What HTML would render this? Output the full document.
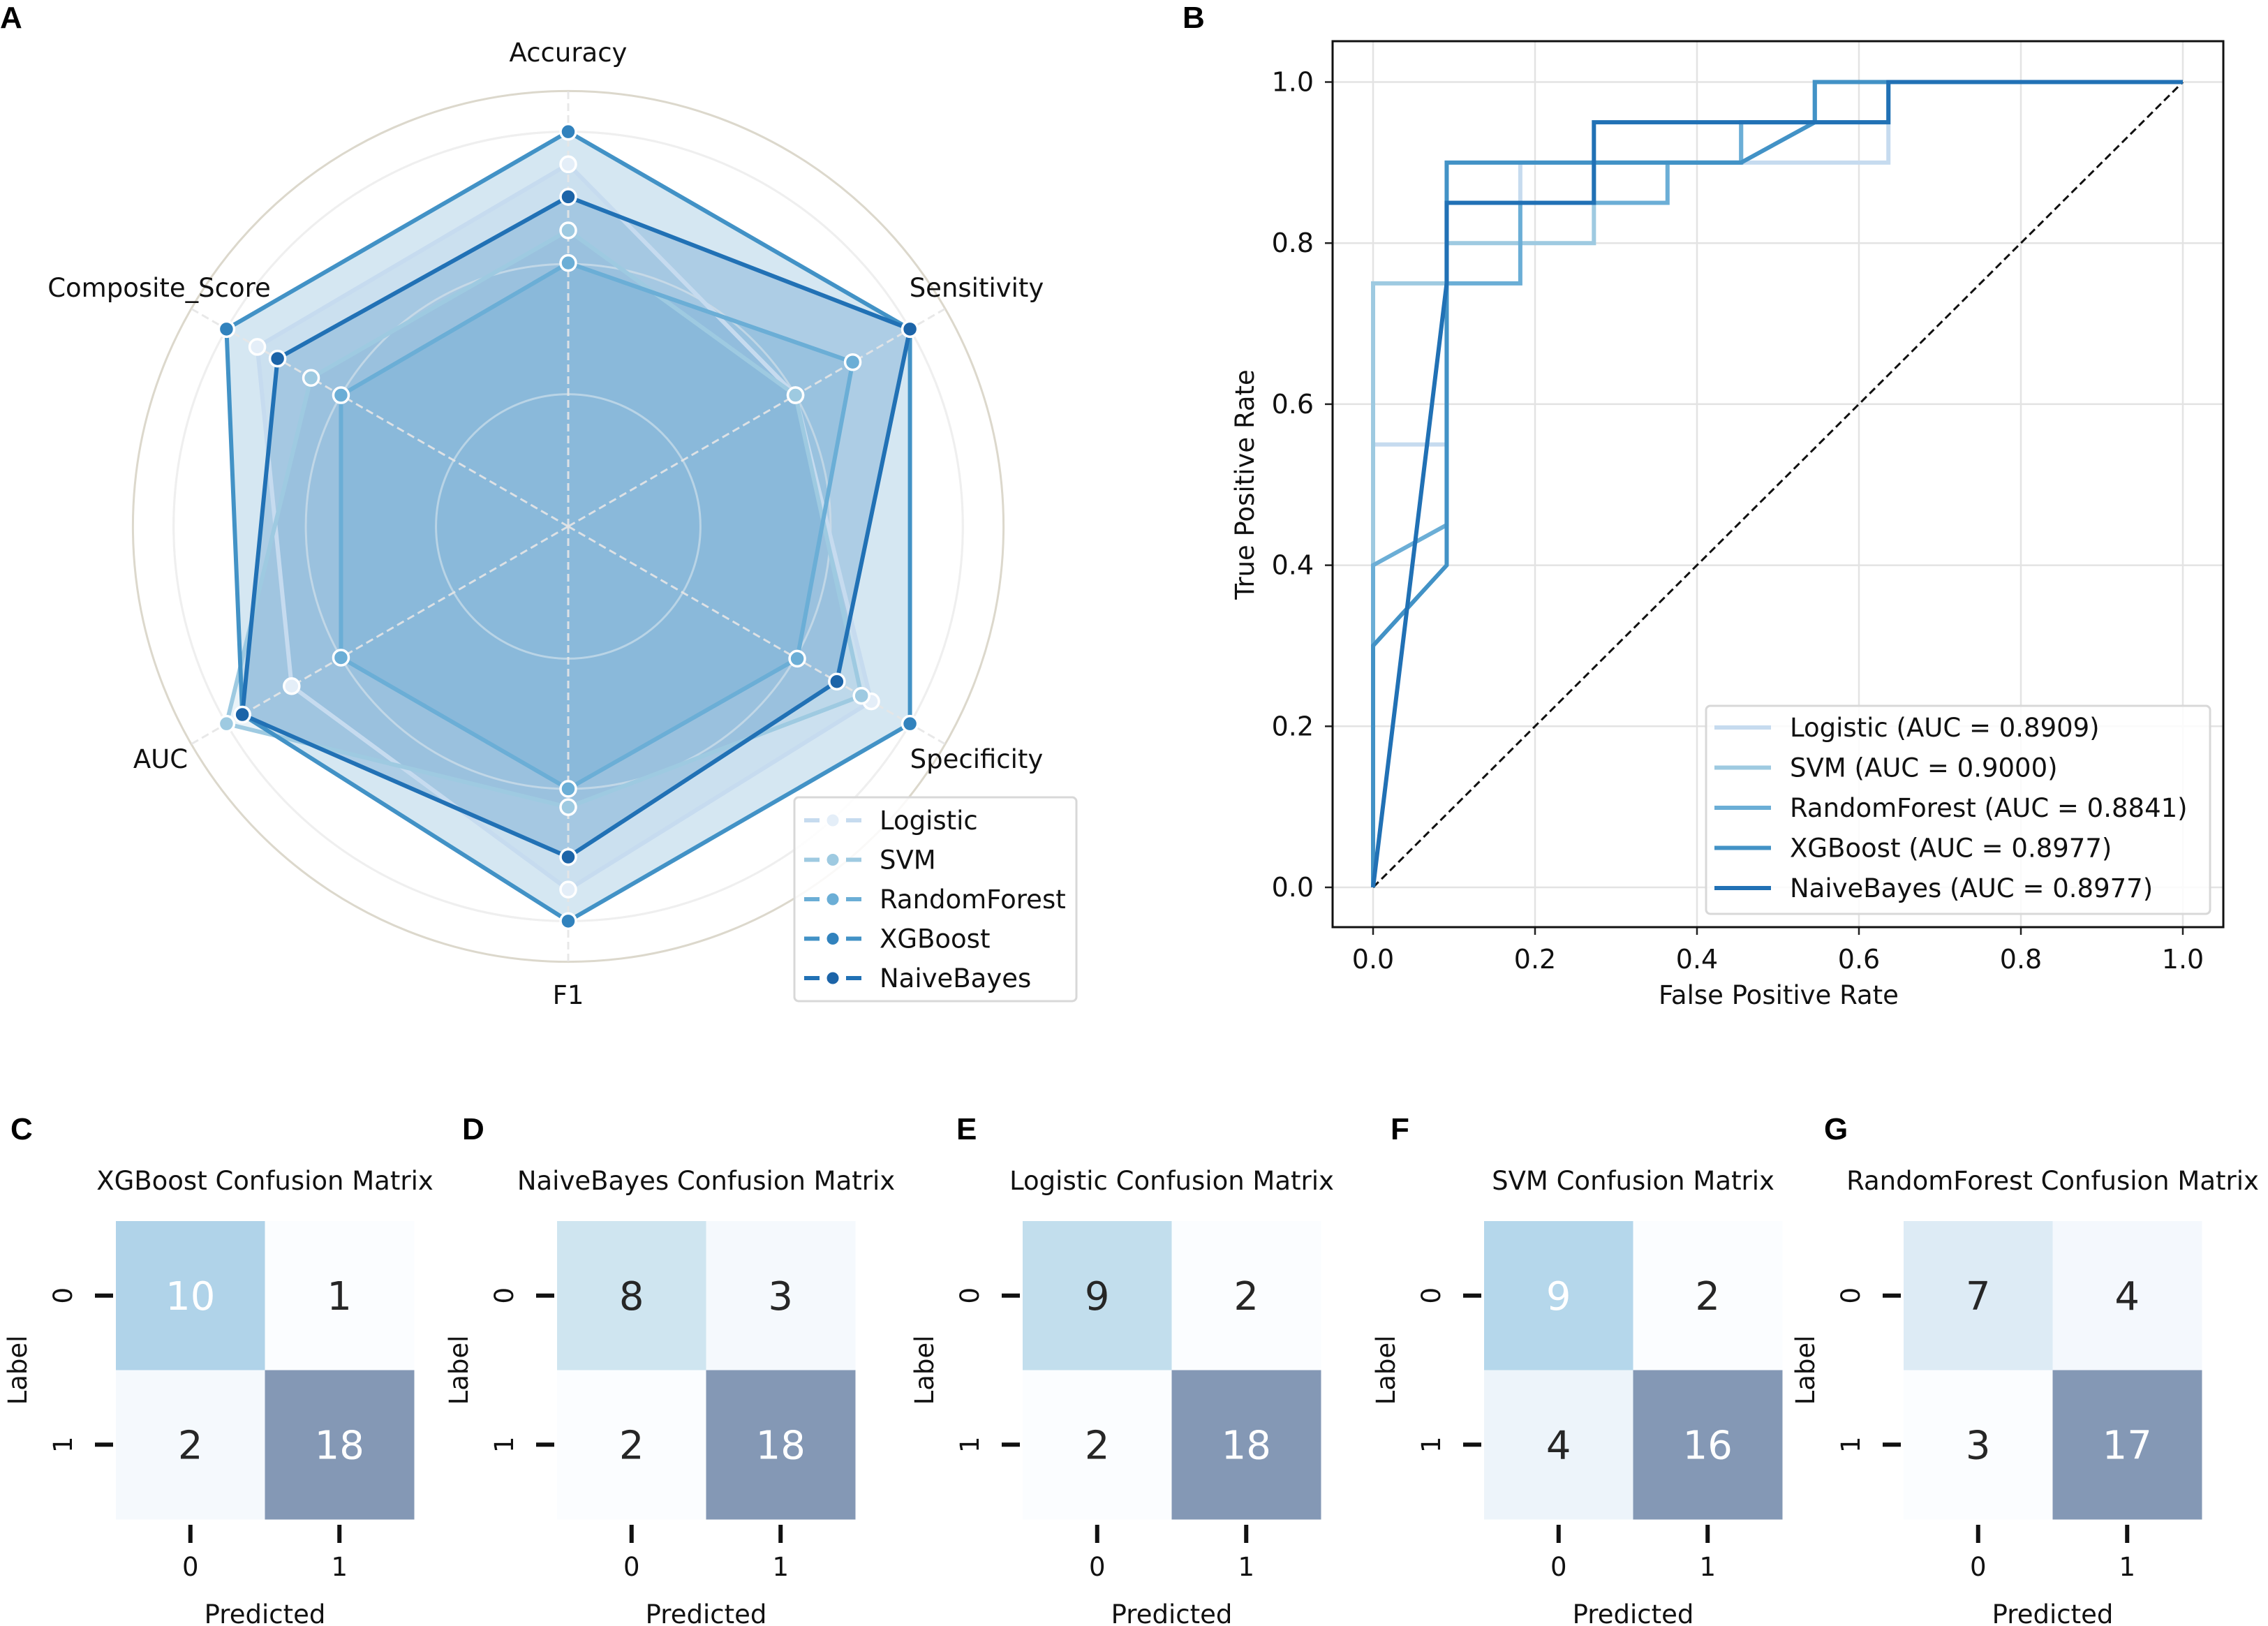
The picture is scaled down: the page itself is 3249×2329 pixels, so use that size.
<!DOCTYPE html>
<html><head><meta charset="utf-8"><style>
html,body{margin:0;padding:0;background:#fff}
svg{display:block}
text{font-family:"DejaVu Sans","Liberation Sans",sans-serif}
.lt{font-family:"Liberation Sans",sans-serif;font-weight:bold;font-size:44px}
</style></head><body>
<svg id="fig" width="3249" height="2329" viewBox="0 0 3249 2329" xmlns="http://www.w3.org/2000/svg">
<text class="lt" x="0" y="40">A</text>
<text class="lt" x="1694" y="40">B</text>
<text class="lt" x="15" y="1632">C</text>
<text class="lt" x="662" y="1632">D</text>
<text class="lt" x="1370" y="1632">E</text>
<text class="lt" x="1992" y="1632">F</text>
<text class="lt" x="2613" y="1632">G</text>
<g id="radar"></g>
<g id="roc"></g>
<g id="cms"></g>
</svg>
<script>
// ---------- Radar data ----------
const radarAxes = ["Accuracy","Sensitivity","Specificity","F1","AUC","Composite_Score"];
const modelNames = ["Logistic","SVM","RandomForest","XGBoost","NaiveBayes"];
const logisticScores = [0.871,0.773,0.859,0.872,0.829,0.868];
const svmScores = [0.806,0.773,0.848,0.791,0.903,0.807];
const rfScores = [0.774,0.838,0.775,0.773,0.773,0.773];
const xgbScores = [0.903,0.903,0.903,0.903,0.885,0.903];
const nbScores = [0.839,0.903,0.820,0.840,0.885,0.845];
const radarRings = [0.645,0.773,0.903,0.943];
// ---------- ROC data ----------
const rocLogisticFpr = [0,0,0.0909,0.0909,0.1818,0.1818,0.6364,0.6364,1];
const rocLogisticTpr = [0,0.55,0.55,0.85,0.85,0.9,0.9,1,1];
const rocSvmFpr = [0,0,0.0909,0.0909,0.2727,0.2727,0.4545,0.4545,0.6364,0.6364,1];
const rocSvmTpr = [0,0.75,0.75,0.8,0.8,0.9,0.9,0.95,0.95,1,1];
const rocRfFpr = [0,0,0.0909,0.0909,0.1818,0.1818,0.3636,0.3636,0.4545,0.4545,0.5455,0.5455,1];
const rocRfTpr = [0,0.4,0.45,0.75,0.75,0.85,0.85,0.9,0.9,0.95,0.95,1,1];
const rocXgbFpr = [0,0,0.0909,0.0909,0.4545,0.5455,0.5455,1];
const rocXgbTpr = [0,0.3,0.4,0.9,0.9,0.95,1,1];
const rocNbFpr = [0,0.0909,0.0909,0.2727,0.2727,0.6364,0.6364,1];
const rocNbTpr = [0,0.75,0.85,0.85,0.95,0.95,1,1];
const rocAucLabels = ["Logistic (AUC = 0.8909)","SVM (AUC = 0.9000)","RandomForest (AUC = 0.8841)","XGBoost (AUC = 0.8977)","NaiveBayes (AUC = 0.8977)"];
const rocTicks = [0,0.2,0.4,0.6,0.8,1.0];
const rocTickLabels = ["0.0","0.2","0.4","0.6","0.8","1.0"];
// ---------- Confusion matrix data ----------
const cmTitles = ["XGBoost Confusion Matrix","NaiveBayes Confusion Matrix","Logistic Confusion Matrix","SVM Confusion Matrix","RandomForest Confusion Matrix"];
const cmXgb = [10,1,2,18];
const cmNb = [8,3,2,18];
const cmLog = [9,2,2,18];
const cmSvm = [9,2,4,16];
const cmRf = [7,4,3,17];

const NS="http://www.w3.org/2000/svg";
function mk(parent,tag,attrs){const e=document.createElementNS(NS,tag);for(const k in attrs)e.setAttribute(k,attrs[k]);parent.appendChild(e);return e;}
const colors=["#c6dbef","#9ecae1","#6baed6","#4292c6","#2171b5"];
const markerFill=["#e4eef8","#9ecae1","#6baed6","#3182bd","#1c64a8"];

// ---------- Radar ----------
(function(){
 const g=document.getElementById('radar');
 const cx=814,cy=754;
 const rr=v=>(v-0.515)*1457;
 const ang=i=>(90-60*i)*Math.PI/180;
 const pt=(i,v)=>[cx+rr(v)*Math.cos(ang(i)),cy-rr(v)*Math.sin(ang(i))];
 radarRings.forEach((v,k)=>{
  const c=mk(g,'circle',{cx:cx,cy:cy,r:rr(v),fill:'none',stroke:k==3?'#dcd8cc':'#e2e2e2','stroke-width':3});
  
  
 });
 const all=[logisticScores,svmScores,rfScores,xgbScores,nbScores];
 all.forEach((s,m)=>{
  const p=s.map((v,i)=>pt(i,v).join(',')).join(' ');
  const poly=mk(g,'polygon',{points:p,fill:colors[m],'fill-opacity':0.22,stroke:'none'});
  
  
 });
 radarRings.slice(0,3).forEach(v=>{
  const c=mk(g,'circle',{cx:cx,cy:cy,r:rr(v),fill:'none',stroke:'rgba(255,255,255,0.45)','stroke-width':3});
  
  
 });
 radarAxes.forEach((a,i)=>{
  const e=pt(i,0.943);
  const l=mk(g,'line',{x1:cx,y1:cy,x2:e[0],y2:e[1],stroke:'#e6e6e6','stroke-width':3,'stroke-dasharray':'11,6','stroke-opacity':0.9});
  
  
 });
 all.forEach((s,m)=>{
  const p=s.map((v,i)=>pt(i,v).join(',')).join(' ');
  const pl=mk(g,'polygon',{points:p,fill:'none',stroke:colors[m],'stroke-width':6,'stroke-linejoin':'round'});
  
  
  s.forEach((v,i)=>{const q=pt(i,v);
   const c=mk(g,'circle',{cx:q[0],cy:q[1],r:11,fill:markerFill[m],stroke:'#fff','stroke-width':3.5});
   
   
  });
 });
 const labPos=[[814,88,'middle'],[1399,425,'middle'],[1399,1100,'middle'],[814,1438,'middle'],[230,1100,'middle'],[228,425,'middle']];
 radarAxes.forEach((a,i)=>{
  const t=mk(g,'text',{x:labPos[i][0],y:labPos[i][1],'text-anchor':labPos[i][2],'font-size':37,fill:'#111'});
  t.textContent=a;
  
  
 });
 const lg=mk(g,'g',{});
 
 
 mk(lg,'rect',{x:1138,y:1142,width:404,height:292,rx:6,fill:'#fff','fill-opacity':0.85,stroke:'#d8d8d8','stroke-width':3});
 modelNames.forEach((n,m)=>{
  const y=1175+m*56.5;
  const e=mk(lg,'g',{});
  
  
  mk(e,'line',{x1:1152,y1:y,x2:1235,y2:y,stroke:colors[m],'stroke-width':6,'stroke-dasharray':'22,8'});
  mk(e,'circle',{cx:1193,cy:y,r:10,fill:markerFill[m],stroke:'#fff','stroke-width':3});
  const t=mk(e,'text',{x:1260,y:y+13,'font-size':37,fill:'#111'});t.textContent=n;
 });
})();

// ---------- ROC ----------
(function(){
 const g=document.getElementById('roc');
 const X=f=>1967+f*1160, Y=t=>1271-t*1153.5;
 rocTicks.forEach((v,i)=>{
  const gx=mk(g,'line',{x1:X(v),y1:59,x2:X(v),y2:1328,stroke:'#e3e3e3','stroke-width':2.5});
  
  const gy=mk(g,'line',{x1:1909,y1:Y(v),x2:3185,y2:Y(v),stroke:'#e3e3e3','stroke-width':2.5});
  
  mk(g,'line',{x1:X(v),y1:1328,x2:X(v),y2:1339,stroke:'#222','stroke-width':2.5});
  mk(g,'line',{x1:1898,y1:Y(v),x2:1909,y2:Y(v),stroke:'#222','stroke-width':2.5});
  const tx=mk(g,'text',{x:X(v),y:1387,'text-anchor':'middle','font-size':38,fill:'#111'});tx.textContent=rocTickLabels[i];
  
  const ty=mk(g,'text',{x:1882,y:Y(v)+13,'text-anchor':'end','font-size':38,fill:'#111'});ty.textContent=rocTickLabels[i];
  
 });
 const d=mk(g,'line',{x1:X(0),y1:Y(0),x2:X(1),y2:Y(1),stroke:'#111','stroke-width':3,'stroke-dasharray':'11,6'});
 
 const curves=[[rocLogisticFpr,rocLogisticTpr],[rocSvmFpr,rocSvmTpr],[rocRfFpr,rocRfTpr],[rocXgbFpr,rocXgbTpr],[rocNbFpr,rocNbTpr]];
 curves.forEach((c,m)=>{
  const p=c[0].map((f,i)=>X(f)+','+Y(c[1][i])).join(' ');
  const pl=mk(g,'polyline',{points:p,fill:'none',stroke:colors[m],'stroke-width':6,'stroke-linejoin':'miter'});
  
  
 });
 const fr=mk(g,'rect',{x:1909,y:59,width:1276,height:1269,fill:'none',stroke:'#111','stroke-width':3});
 
 const xl=mk(g,'text',{x:2548,y:1438,'text-anchor':'middle','font-size':37,fill:'#111'});xl.textContent='False Positive Rate';
 
 const yl=mk(g,'text',{x:0,y:0,'text-anchor':'middle','font-size':37,fill:'#111',transform:'translate(1796,694) rotate(-90)'});yl.textContent='True Positive Rate';
 
 const lg=mk(g,'g',{});
 
 mk(lg,'rect',{x:2444,y:1011,width:722,height:298,rx:6,fill:'#fff','fill-opacity':0.85,stroke:'#d8d8d8','stroke-width':3});
 rocAucLabels.forEach((n,m)=>{
  const y=1042+m*57.5;
  const e=mk(lg,'g',{});
  
  mk(e,'line',{x1:2456,y1:y,x2:2537,y2:y,stroke:colors[m],'stroke-width':6});
  const t=mk(e,'text',{x:2564,y:y+13,'font-size':37,fill:'#111'});t.textContent=n;
 });
})();

// ---------- Confusion matrices ----------
(function(){
 const g=document.getElementById('cms');
 const stops=["#f7fbff","#deebf7","#c6dbef","#9ecae1","#6baed6","#4292c6","#2171b5","#08519c","#08306b"];
 const hx=s=>[1,3,5].map(i=>parseInt(s.substr(i,2),16));
 function blues(t){t=Math.max(0,Math.min(1,t));const p=t*8,i=Math.min(7,Math.floor(p)),f=p-i;const a=hx(stops[i]),b=hx(stops[i+1]);
  const c=a.map((v,k)=>v+(b[k]-v)*f).map(v=>Math.round((v+255)/2));return 'rgb('+c.join(',')+')';}
 const mats=[cmXgb,cmNb,cmLog,cmSvm,cmRf];
 const lefts=[166,798,1465,2126,2727];
 const cs=213.5, top=1749;
 mats.forEach((mv,k)=>{
  const L=lefts[k];
  const mg=mk(g,'g',{});
  
  
  const mn=Math.min(...mv),mx=Math.max(...mv);
  mv.forEach((v,i)=>{
   const r=Math.floor(i/2),c=i%2,t=(v-mn)/(mx-mn);
   const cell=mk(mg,'rect',{x:L+c*cs,y:top+r*cs,width:cs+0.5,height:cs+0.5,fill:blues(t)});
   
   
   const tx=mk(mg,'text',{x:L+c*cs+cs/2,y:top+r*cs+cs/2+20,'text-anchor':'middle','font-size':56,fill:t>=0.5?'#fff':'#262626'});
   tx.textContent=v;
   
  });
  const ti=mk(mg,'text',{x:L+cs,y:1704,'text-anchor':'middle','font-size':37,fill:'#111'});ti.textContent=cmTitles[k];
  
  [0,1].forEach(j=>{
   const cy=top+j*cs+cs/2, cx=L+j*cs+cs/2;
   mk(mg,'line',{x1:L-30,y1:cy,x2:L-4,y2:cy,stroke:'#111','stroke-width':6});
   mk(mg,'line',{x1:cx,y1:top+2*cs+8,x2:cx,y2:top+2*cs+34,stroke:'#111','stroke-width':6});
   const yt=mk(mg,'text',{x:0,y:0,'text-anchor':'middle','font-size':37,fill:'#111',transform:'translate('+(L-63)+','+cy+') rotate(-90)'});yt.textContent=j;
   
   const xt=mk(mg,'text',{x:cx,y:2257,'text-anchor':'middle','font-size':37,fill:'#111'});xt.textContent=j;
   
  });
  const xl=mk(mg,'text',{x:L+cs,y:2325,'text-anchor':'middle','font-size':37,fill:'#111'});xl.textContent='Predicted';
  
  const yl=mk(mg,'text',{x:0,y:0,'text-anchor':'middle','font-size':37,fill:'#111',transform:'translate('+(L-128)+','+(top+cs)+') rotate(-90)'});yl.textContent='Label';
  
 });
})();
</script>
</body></html>
